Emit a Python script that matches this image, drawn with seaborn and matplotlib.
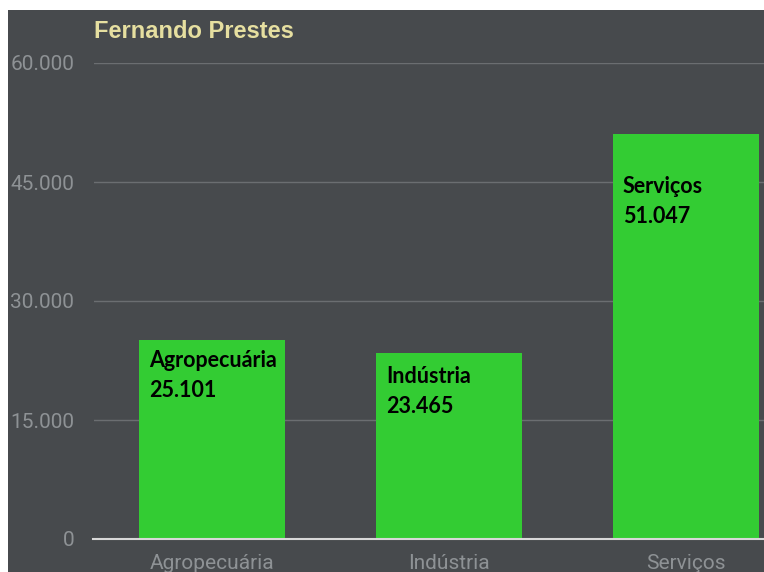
import seaborn as sns
import matplotlib.pyplot as plt
import pandas as pd
from matplotlib.patches import Rectangle
from matplotlib.ticker import FuncFormatter

# Data
setores = ['Agropecuária', 'Indústria', 'Serviços']
valores = [25101, 23465, 51047]
titulo = 'Fernando Prestes'

df = pd.DataFrame({'Setor': setores, 'Valor': valores})

bg = '#474a4d'
green = '#33cc33'

fig = plt.figure(figsize=(7.64, 5.72), dpi=100, facecolor='white')
W, H = 764, 572
# dark panel
fig.patches.append(Rectangle((8 / W, 0), 1, 1 - 10 / H, transform=fig.transFigure,
                             facecolor=bg, edgecolor='none', zorder=-5))

ax = fig.add_axes([93.5 / W, 33 / H, 711 / W, 476 / H])
ax.set_facecolor('none')

sns.barplot(x='Setor', y='Valor', data=df, color=green, saturation=1,
            width=0.616, ax=ax, zorder=3)

ax.set_xlim(-0.5, 2.5)
ax.set_ylim(0, 60000)
ax.set_yticks([0, 15000, 30000, 45000, 60000])
ax.yaxis.set_major_formatter(FuncFormatter(lambda v, p: f'{int(v):,}'.replace(',', '.')))
ax.grid(axis='y', color='#6b6e71', linewidth=1, zorder=0)
ax.set_axisbelow(True)
for s in ['top', 'right', 'left']:
    ax.spines[s].set_visible(False)
ax.spines['bottom'].set_color('#d8d8d8')
ax.spines['bottom'].set_linewidth(1.5)
ax.spines['bottom'].set_zorder(4)
ax.tick_params(length=0, colors='#8e9295', labelsize=15)
ax.tick_params(axis='y', pad=14)
ax.tick_params(axis='x', pad=11)
for lab in ax.get_xticklabels() + ax.get_yticklabels():
    lab.set_fontfamily('Roboto')
    lab.set_fontweight('normal')
ax.set_xlabel('')
ax.set_ylabel('')

# labels inside bars (pixel offset from the bar's top-left corner)
offsets = [-10, -13, -42]
for i, (s, v) in enumerate(zip(setores, valores)):
    txt = s + '\n' + f'{v:,}'.replace(',', '.')
    ax.annotate(txt, xy=(i - 0.308, v), xytext=(10, offsets[i]), textcoords='offset pixels',
                ha='left', va='top', fontsize=15.5, fontweight='bold', family='Lato',
                color='black', linespacing=1.55, zorder=5)

fig.text(94 / W, 1 - 32 / H, titulo, ha='left', va='center', fontsize=17,
         fontweight='bold', family='Liberation Sans', color='#e6dfa0')

plt.savefig('out.png', dpi=100, facecolor='white')
